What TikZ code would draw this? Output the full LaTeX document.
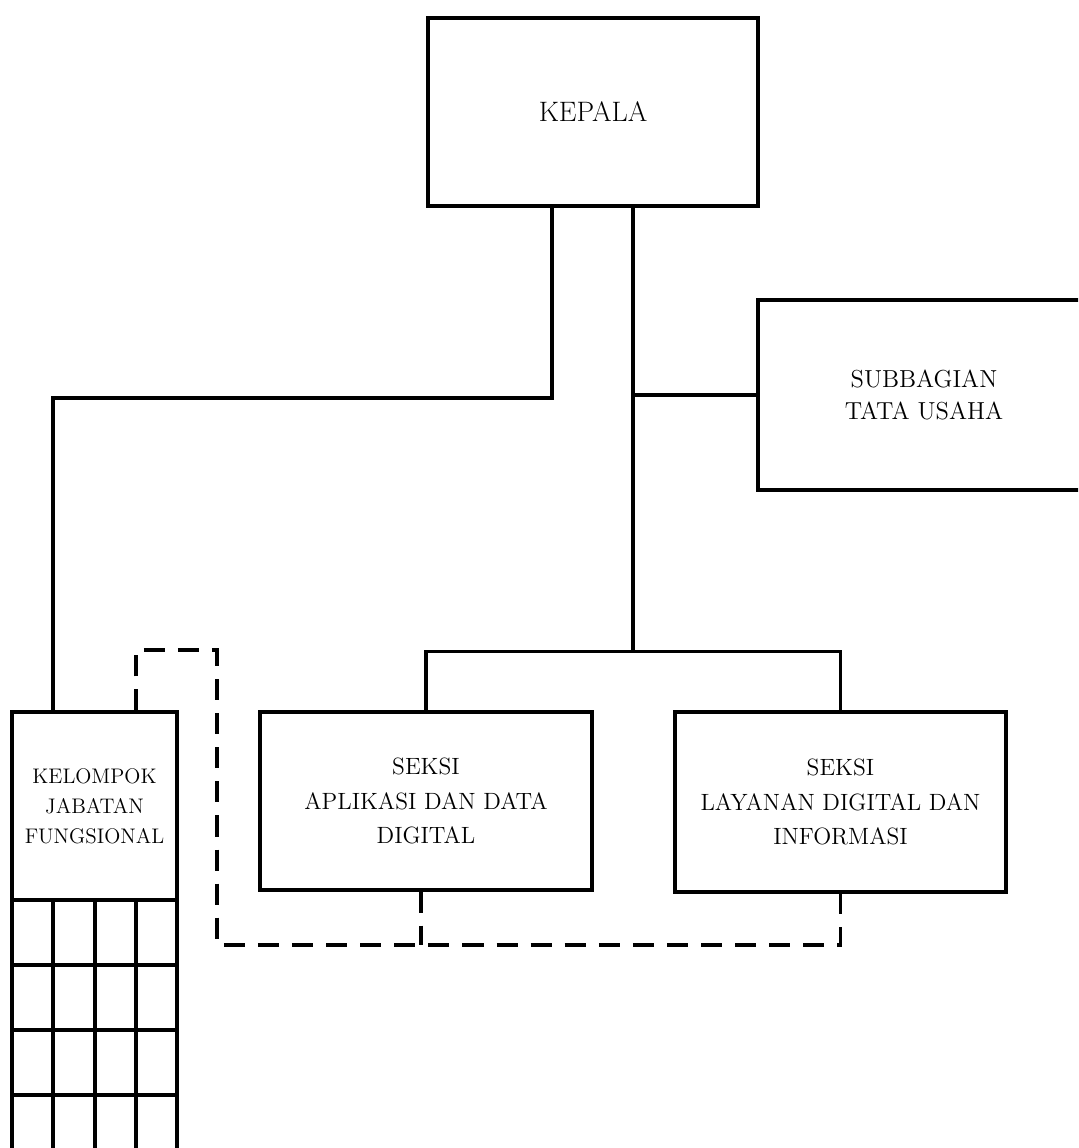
\documentclass[tikz,border=0pt]{standalone}
\usepackage{tikz}
\usetikzlibrary{calc, positioning}

\tikzset{
  box/.style={draw, line width=1.8pt, align=center, inner sep=0pt},
  link/.style={line width=1.8pt},
  koord/.style={line width=1.8pt, dash pattern=on 12pt off 7.4pt},
}

\begin{document}
\begin{tikzpicture}[scale=2]
  \clip (0,0) rectangle (10.78,-11.48);

  % Kepala
  \node[box, minimum width=6.60cm, minimum height=3.76cm,
        font=\fontsize{16}{19}\selectfont] (kepala) at (5.93,-1.12) {KEPALA};

  % Subbagian (cut at the right edge)
  \node[box, minimum width=6.64cm, minimum height=3.80cm,
        font=\fontsize{14}{18.2}\selectfont] (subbag) at (9.24,-3.95)
        {SUBBAGIAN\\TATA USAHA};

  % Seksi
  \node[box, minimum width=6.64cm, minimum height=3.56cm,
        font=\fontsize{13.4}{19.4}\selectfont] (aplikasi) at (4.26,-8.01)
        {SEKSI\\APLIKASI DAN DATA\\DIGITAL};
  \node[box, minimum width=6.62cm, minimum height=3.60cm,
        font=\fontsize{13.4}{19.4}\selectfont] (layanan) at (8.405,-8.02)
        {SEKSI\\LAYANAN DIGITAL DAN\\INFORMASI};

  % Kelompok jabatan fungsional with its grid
  \node[box, minimum width=3.30cm, minimum height=3.76cm,
        font=\fontsize{12}{17}\selectfont] (kelompok) at (0.945,-8.06)
        {KELOMPOK\\JABATAN\\FUNGSIONAL};
  \foreach \xx in {0.12, 0.53, 0.95, 1.36, 1.77} {
    \draw[link] (\xx,-9.00) -- (\xx,-11.60);
  }
  \foreach \yy in {9.65, 10.30, 10.95} {
    \draw[link] (0.12,-\yy) -- (1.77,-\yy);
  }

  % Lines of command
  \coordinate (kiri) at (0.53,-3.98);
  \draw[link] ($(kepala.south)+(-0.41,0)$) |- (kiri) -- (kiri |- kelompok.north);
  \draw[link] ($(kepala.south)+(0.40,0)$) -- ++(0,-4.44) coordinate (cabang);
  \draw[link] (subbag.west) -- (subbag.west -| cabang);
  \draw[link] (aplikasi.north) |- (cabang) -| (layanan.north);

  % Coordination (dashed)
  \coordinate (katas) at (2.17,-6.50);
  \coordinate (kbawah) at (2.17,-9.45);
  \coordinate (adrop) at ($(aplikasi.south)+(-0.05,0)$);
  \draw[koord] ($(kelompok.north)+(0.415,0)$) |- (katas) -- (kbawah)
    -- (kbawah -| layanan.south) -- (layanan.south);
  \draw[koord] (adrop) -- (adrop |- kbawah);
\end{tikzpicture}
\end{document}
